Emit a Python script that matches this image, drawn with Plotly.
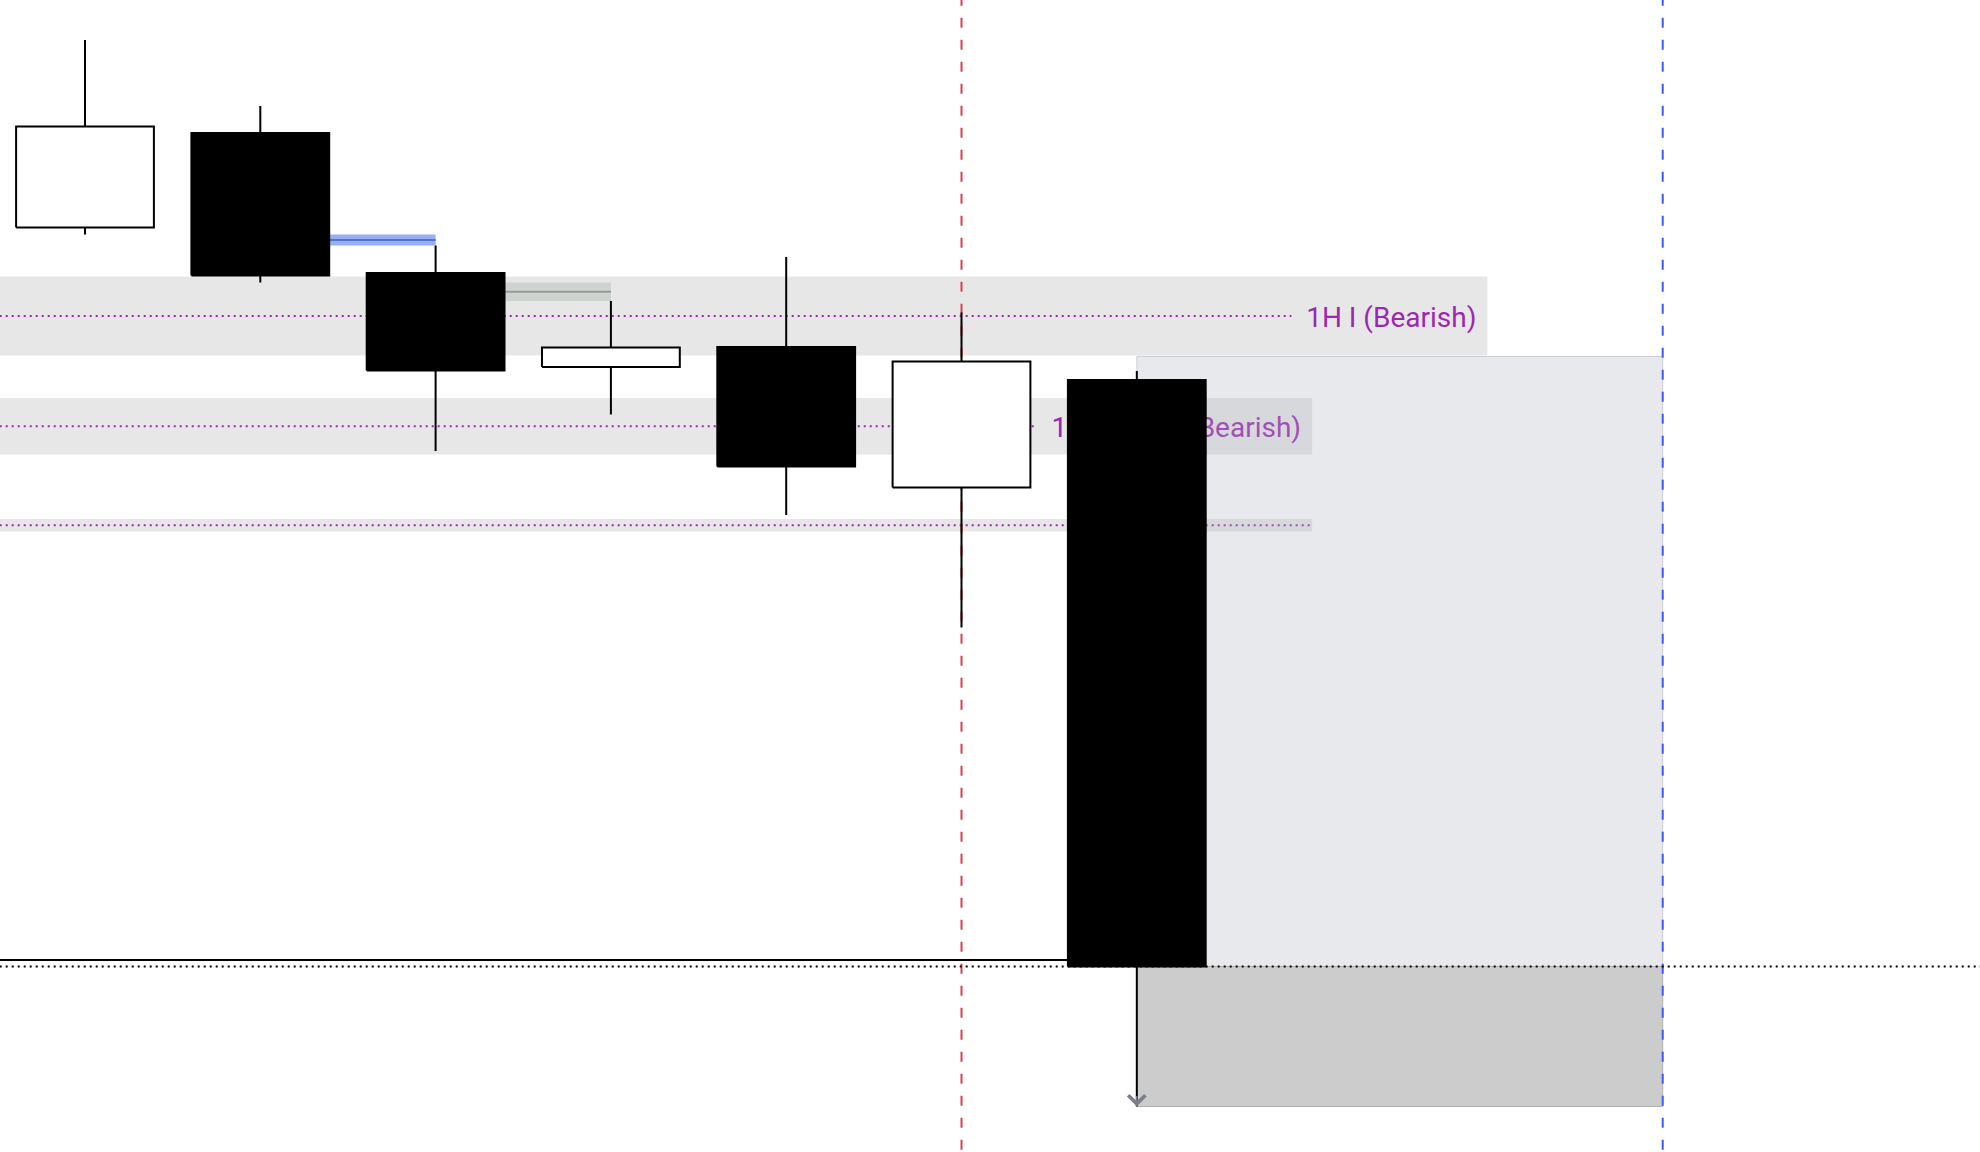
import plotly.graph_objects as go

# ---------------- data ----------------
bar_index = [0, 1, 2, 3, 4, 5, 6]
opens  = [2355.45, 2357.34, 2354.54, 2352.66, 2353.06, 2350.25, 2352.40]
highs  = [2359.20, 2357.88, 2355.09, 2353.98, 2354.86, 2353.75, 2352.58]
lows   = [2355.31, 2354.35, 2350.98, 2351.71, 2349.70, 2347.45, 2337.87]
closes = [2357.47, 2354.49, 2352.59, 2353.05, 2350.67, 2352.77, 2340.67]

# higher-timeframe zones
zone_labels = ["1H I (Bearish)", "15m FVG I (Bearish)", ""]
zone_tops = [2354.47, 2352.04, 2349.62]
zone_bottoms = [2352.89, 2350.91, 2349.37]
zone_end_bar = [8, 7, 7]
zone_label_px = [172, 252, 0]   # approximate rendered label widths

# fair value gaps: middle bar of each 3-bar pattern
fvg_mid_bars = [1, 2]
fvg_fill = ["#98adf5", "#ced3cf"]
fvg_line = ["#5672c8", "#969b97"]

# position tool
pos_start_bar, pos_end_bar = 6, 9
pos_stop = 2352.87
pos_entry = 2340.67
pos_target = 2337.87
level_price = 2340.80
session_bar = 5
range_end_bar = 9

# ---------------- layout constants ----------------
W, H = 1980, 1152
X_RANGE = [-0.4849, 10.810]
Y_RANGE = [2336.96, 2360.00]
px_per_x = W / (X_RANGE[1] - X_RANGE[0])
px_per_y = H / (Y_RANGE[1] - Y_RANGE[0])
HALF_BODY = 0.393
PURPLE = "#9c27b0"

fig = go.Figure()
shapes = []

# zones (bands) with dotted mid lines
for lab, top, bot, end, lw in zip(zone_labels, zone_tops, zone_bottoms, zone_end_bar, zone_label_px):
    shapes.append(dict(type="rect", xref="x", yref="y", x0=-1, x1=end, y0=bot, y1=top,
                       fillcolor="#e7e7e7", line=dict(width=0), layer="below"))
    mid = (top + bot) / 2
    line_end = end - (lw + 24) / px_per_x if lw else end
    shapes.append(dict(type="line", xref="x", yref="y", x0=-1, x1=line_end, y0=mid, y1=mid,
                       line=dict(color=PURPLE, width=2, dash="2px,4px"), layer="below"))

# FVGs from candles
for k, b in enumerate(fvg_mid_bars):
    y0 = lows[b - 1]
    y1 = highs[b + 1]
    shapes.append(dict(type="rect", xref="x", yref="y", x0=bar_index[b], x1=bar_index[b + 1],
                       y0=y0, y1=y1, fillcolor=fvg_fill[k], line=dict(width=0), layer="below"))
    m = (y0 + y1) / 2
    shapes.append(dict(type="line", xref="x", yref="y", x0=bar_index[b], x1=bar_index[b + 1],
                       y0=m, y1=m, line=dict(color=fvg_line[k], width=2), layer="below"))

# zone labels (under candles and position tool)
lab_x, lab_y, lab_t = [], [], []
for lab, top, bot, end in zip(zone_labels, zone_tops, zone_bottoms, zone_end_bar):
    if lab:
        lab_x.append(end - 11 / px_per_x)
        lab_y.append((top + bot) / 2 - 3.5 / px_per_y)
        lab_t.append(lab)
fig.add_trace(go.Scatter(x=lab_x, y=lab_y, text=lab_t, mode="text", textposition="middle left",
                         textfont=dict(family="Roboto", size=28, color=PURPLE), hoverinfo="skip"))

# position tool
px0, px1 = pos_start_bar, pos_end_bar
fig.add_trace(go.Scatter(x=[px0, px1, px1, px0, px0], y=[pos_stop, pos_stop, pos_entry, pos_entry, pos_stop],
                         mode="lines", fill="toself", fillcolor="rgba(176,180,194,0.29)",
                         line=dict(color="rgba(160,165,180,0.45)", width=1), hoverinfo="skip"))
fig.add_trace(go.Scatter(x=[px0, px1, px1, px0, px0], y=[pos_entry, pos_entry, pos_target, pos_target, pos_entry],
                         mode="lines", fill="toself", fillcolor="#cccccc",
                         line=dict(color="#b0b0b0", width=1), hoverinfo="skip"))

# vertical dashed lines
y_top_ext = Y_RANGE[1] + 4.3 / px_per_y
y_bot_ext = Y_RANGE[0] - 10
fig.add_trace(go.Scatter(x=[session_bar, session_bar], y=[y_top_ext, y_bot_ext], mode="lines",
                         line=dict(color="#de3f4b", width=2, dash="10px,12px"), hoverinfo="skip"))
fig.add_trace(go.Scatter(x=[range_end_bar, range_end_bar], y=[y_top_ext, y_bot_ext], mode="lines",
                         line=dict(color="#3d5afe", width=2, dash="10px,12px"), hoverinfo="skip"))

# horizontal levels
fig.add_trace(go.Scatter(x=[-1, bar_index[pos_start_bar]], y=[level_price, level_price], mode="lines",
                         line=dict(color="black", width=2), hoverinfo="skip"))
fig.add_trace(go.Scatter(x=[-1, 12], y=[pos_entry, pos_entry], mode="lines",
                         line=dict(color="black", width=2, dash="2px,4px"), hoverinfo="skip"))

# candles: wicks
wx, wy = [], []
for i, hi, lo in zip(bar_index, highs, lows):
    wx += [i, i, None]
    wy += [hi, lo, None]
fig.add_trace(go.Scatter(x=wx, y=wy, mode="lines", line=dict(color="black", width=2), hoverinfo="skip"))

# candles: bodies
def bodies(bull):
    bx, by = [], []
    for i, o, c in zip(bar_index, opens, closes):
        if (c >= o) == bull:
            lo_, hi_ = min(o, c), max(o, c)
            bx += [i - HALF_BODY, i + HALF_BODY, i + HALF_BODY, i - HALF_BODY, i - HALF_BODY, None]
            by += [lo_, lo_, hi_, hi_, lo_, None]
    return bx, by

bx, by = bodies(True)
fig.add_trace(go.Scatter(x=bx, y=by, mode="lines", fill="toself", fillcolor="white",
                         line=dict(color="black", width=2), hoverinfo="skip"))
bx, by = bodies(False)
fig.add_trace(go.Scatter(x=bx, y=by, mode="lines", fill="toself", fillcolor="black",
                         line=dict(color="black", width=2), hoverinfo="skip"))

# small arrow head at the end of the position tool
fig.add_annotation(x=pos_start_bar, y=pos_target, xref="x", yref="y", text="",
                   showarrow=True, arrowhead=4, arrowsize=2.2, arrowwidth=1.5, arrowcolor="#7c7f8a",
                   ax=0, ay=-12)

fig.update_layout(
    width=W, height=H, margin=dict(l=0, r=0, t=0, b=0),
    paper_bgcolor="white", plot_bgcolor="white", showlegend=False,
    shapes=shapes, hovermode=False,
    xaxis=dict(range=X_RANGE, visible=False, showgrid=False, zeroline=False),
    yaxis=dict(range=Y_RANGE, visible=False, showgrid=False, zeroline=False),
    font=dict(family="Roboto"),
)

fig.write_html("out.html", config={"displayModeBar": False},
               post_script="document.body.style.margin='0px';document.body.style.overflow='hidden';")
